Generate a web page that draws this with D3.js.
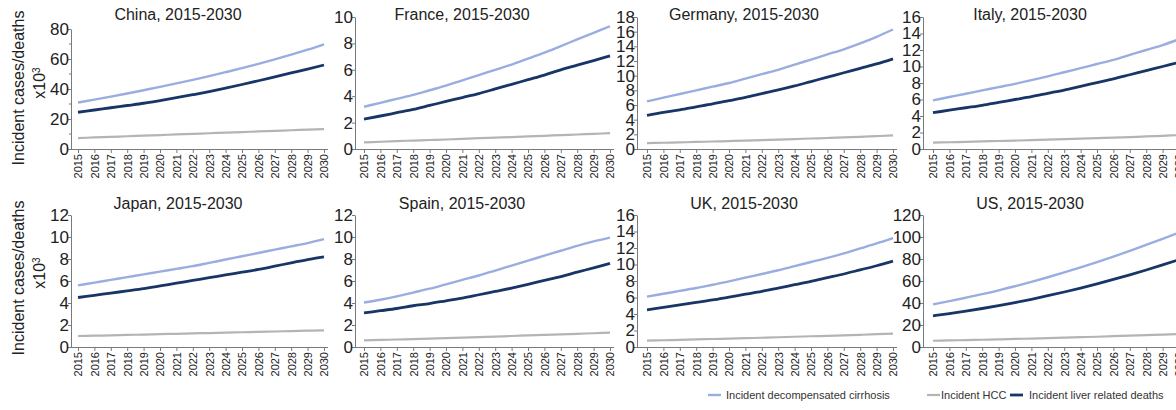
<!DOCTYPE html>
<html>
<head>
<meta charset="utf-8">
<script src="https://cdn.jsdelivr.net/npm/d3@7"></script>
<style>
  body { margin: 0; background: #fff; }
  svg { display: block; font-family: "Liberation Sans", Arial, sans-serif; }
</style>
</head>
<body>
<script>
'use strict';

// x axis categories
const years = [2015, 2016, 2017, 2018, 2019, 2020, 2021, 2022, 2023, 2024, 2025, 2026, 2027, 2028, 2029, 2030];

// values, in thousands
const chinaCirrhosis = [31, 32.9, 34.9, 37.0, 39.2, 41.4, 43.7, 46.1, 48.6, 51.2, 53.9, 56.8, 59.8, 62.9, 66.2, 69.8];
const chinaHcc       = [7.3, 7.7, 8.1, 8.5, 8.9, 9.3, 9.7, 10.1, 10.5, 10.9, 11.3, 11.7, 12.1, 12.5, 12.9, 13.3];
const chinaDeaths    = [24.5, 26, 27.5, 29, 30.5, 32.3, 34.2, 36.2, 38.3, 40.6, 43, 45.5, 48.1, 50.7, 53.3, 56];

const franceCirrhosis = [3.2, 3.5, 3.8, 4.1, 4.45, 4.8, 5.2, 5.6, 6.0, 6.4, 6.85, 7.3, 7.8, 8.3, 8.8, 9.3];
const franceHcc       = [0.5, 0.55, 0.6, 0.64, 0.68, 0.72, 0.77, 0.82, 0.86, 0.9, 0.95, 1.0, 1.05, 1.1, 1.15, 1.2];
const franceDeaths    = [2.27, 2.5, 2.75, 3.0, 3.3, 3.6, 3.9, 4.2, 4.55, 4.9, 5.25, 5.6, 6.0, 6.35, 6.7, 7.05];

const germanyCirrhosis = [6.5, 7.0, 7.5, 8.0, 8.5, 9.0, 9.6, 10.2, 10.8, 11.5, 12.2, 12.9, 13.6, 14.4, 15.3, 16.3];
const germanyHcc       = [0.8, 0.85, 0.9, 0.96, 1.02, 1.08, 1.15, 1.22, 1.29, 1.36, 1.43, 1.5, 1.58, 1.66, 1.75, 1.85];
const germanyDeaths    = [4.6, 5.0, 5.35, 5.75, 6.15, 6.6, 7.05, 7.55, 8.05, 8.6, 9.2, 9.8, 10.4, 11.0, 11.6, 12.3];

const italyCirrhosis = [5.9, 6.3, 6.7, 7.1, 7.5, 7.9, 8.35, 8.8, 9.3, 9.8, 10.3, 10.8, 11.4, 12.0, 12.6, 13.3];
const italyHcc       = [0.77, 0.82, 0.87, 0.92, 0.97, 1.02, 1.08, 1.14, 1.2, 1.26, 1.32, 1.38, 1.45, 1.52, 1.6, 1.68];
const italyDeaths    = [4.4, 4.7, 5.0, 5.3, 5.65, 6.0, 6.35, 6.75, 7.15, 7.6, 8.05, 8.5, 9.0, 9.5, 10.0, 10.5];

const japanCirrhosis = [5.6, 5.85, 6.1, 6.35, 6.6, 6.85, 7.1, 7.35, 7.65, 7.95, 8.25, 8.55, 8.85, 9.15, 9.45, 9.8];
const japanHcc       = [1.0, 1.03, 1.06, 1.1, 1.13, 1.17, 1.2, 1.24, 1.27, 1.31, 1.34, 1.38, 1.41, 1.45, 1.48, 1.52];
const japanDeaths    = [4.5, 4.7, 4.9, 5.1, 5.3, 5.55, 5.8, 6.05, 6.3, 6.55, 6.8, 7.05, 7.35, 7.65, 7.95, 8.2];

const spainCirrhosis = [4.05, 4.3, 4.6, 4.95, 5.3, 5.7, 6.1, 6.5, 6.95, 7.4, 7.85, 8.3, 8.75, 9.2, 9.6, 9.95];
const spainHcc       = [0.6, 0.64, 0.68, 0.72, 0.76, 0.8, 0.85, 0.9, 0.95, 1.0, 1.05, 1.1, 1.15, 1.2, 1.25, 1.3];
const spainDeaths    = [3.1, 3.3, 3.5, 3.75, 3.95, 4.2, 4.45, 4.75, 5.05, 5.35, 5.7, 6.05, 6.4, 6.8, 7.2, 7.6];

const ukCirrhosis = [6.1, 6.45, 6.8, 7.15, 7.55, 7.95, 8.4, 8.85, 9.3, 9.8, 10.3, 10.8, 11.35, 11.95, 12.55, 13.2];
const ukHcc       = [0.77, 0.82, 0.87, 0.92, 0.97, 1.02, 1.07, 1.12, 1.18, 1.24, 1.3, 1.36, 1.42, 1.48, 1.55, 1.62];
const ukDeaths    = [4.5, 4.8, 5.1, 5.4, 5.7, 6.05, 6.4, 6.75, 7.15, 7.55, 7.95, 8.4, 8.85, 9.35, 9.85, 10.4];

const usCirrhosis = [38.8, 41.7, 44.8, 48, 51.5, 55.2, 59.2, 63.4, 67.8, 72.4, 77.2, 82.2, 87.4, 92.8, 98.3, 104];
const usHcc       = [5.7, 6.0, 6.3, 6.6, 6.9, 7.3, 7.7, 8.1, 8.5, 8.9, 9.3, 9.8, 10.3, 10.8, 11.3, 11.9];
const usDeaths    = [28.3, 30.4, 32.6, 35.0, 37.6, 40.4, 43.4, 46.6, 50.0, 53.6, 57.4, 61.4, 65.6, 70.0, 74.6, 79.4];

// panel titles and y axis tops
const titles = ['China, 2015-2030', 'France, 2015-2030', 'Germany, 2015-2030', 'Italy, 2015-2030',
                'Japan, 2015-2030', 'Spain, 2015-2030', 'UK, 2015-2030', 'US, 2015-2030'];
const yMaxes = [80, 10, 18, 16, 12, 12, 16, 120];
const yStepTicks = [20, 2, 2, 2, 2, 2, 2, 20];

const seriesNames = ['Incident decompensated cirrhosis', 'Incident HCC', 'Incident liver related deaths'];

(function() {

  const colors = ['#9aade0', '#b4b4b4', '#173566'];
  const widths = [2.4, 2.2, 2.8];

  // layout in pixels
  const cols = [
    { axis: 71, x0: 78 },
    { axis: 355, x0: 364 },
    { axis: 637, x0: 647 },
    { axis: 923, x0: 933 }
  ];
  const span = 246;
  const rows = [
    { zero: 149, top: 17 },
    { zero: 347, top: 215 }
  ];

  const panelData = [
    [chinaCirrhosis, chinaHcc, chinaDeaths],
    [franceCirrhosis, franceHcc, franceDeaths],
    [germanyCirrhosis, germanyHcc, germanyDeaths],
    [italyCirrhosis, italyHcc, italyDeaths],
    [japanCirrhosis, japanHcc, japanDeaths],
    [spainCirrhosis, spainHcc, spainDeaths],
    [ukCirrhosis, ukHcc, ukDeaths],
    [usCirrhosis, usHcc, usDeaths]
  ];

  const svg = d3.select('body')
    .append('svg')
    .attr('width', 1176)
    .attr('height', 410);

  panelData.forEach((series, i) => {
    let col = cols[i % 4];
    let row = rows[Math.floor(i / 4)];
    // china's axis is a bit shorter than the others
    let top = i === 0 ? 29 : row.top;
    let titleY = i < 4 ? 20 : 209;
    drawPanel(series, i, col, row.zero, top, titleY);
  });

  drawYLabel(88);
  drawYLabel(278);
  drawLegend();

  // one small multiple
  function drawPanel(series, i, col, zero, top, titleY) {
    let g = svg.append('g');

    let xScale = d3.scaleLinear()
      .domain([2015, 2030])
      .range([col.x0, col.x0 + span]);

    let yScale = d3.scaleLinear()
      .domain([0, yMaxes[i]])
      .range([zero, top]);

    // x axis
    let xAxis = d3.axisBottom(xScale)
      .tickValues(years)
      .tickFormat(d3.format('d'))
      .tickSize(4)
      .tickSizeOuter(0);
    let xg = g.append('g')
      .attr('transform', 'translate(0,' + zero + ')')
      .call(xAxis);
    xg.select('.domain')
      .attr('d', 'M' + col.axis + ',0.5H' + (col.x0 + span + 4));
    xg.selectAll('line').attr('stroke', '#7a7a7a');
    xg.select('.domain').attr('stroke', '#7a7a7a');
    xg.selectAll('text')
      .attr('transform', 'rotate(-90)')
      .attr('x', -5)
      .attr('y', 0)
      .attr('dy', '0.35em')
      .style('text-anchor', 'end')
      .style('font-size', '11px')
      .style('font-family', '"Liberation Sans", Arial, sans-serif')
      .attr('fill', '#222');

    // y axis
    let yAxis = d3.axisLeft(yScale)
      .tickValues(d3.range(0, yMaxes[i] + 0.001, yStepTicks[i]))
      .tickSize(3)
      .tickSizeOuter(0);
    let yg = g.append('g')
      .attr('transform', 'translate(' + col.axis + ',0)')
      .call(yAxis);
    yg.select('.domain').attr('stroke', '#7a7a7a');
    yg.selectAll('line').attr('stroke', '#7a7a7a');
    yg.selectAll('text')
      .attr('x', -2)
      .style('font-size', '17px')
      .style('font-family', '"Liberation Sans", Arial, sans-serif')
      .attr('fill', '#222');

    // minor ticks on the china panel
    if (i === 0) {
      g.selectAll('.minor')
        .data([10, 30, 50, 70])
        .enter()
        .append('line')
        .attr('x1', col.axis - 2)
        .attr('x2', col.axis)
        .attr('y1', (d) => yScale(d))
        .attr('y2', (d) => yScale(d))
        .attr('stroke', '#7a7a7a');
    }

    // title
    g.append('text')
      .attr('x', col.axis + 107)
      .attr('y', titleY)
      .attr('text-anchor', 'middle')
      .style('font-size', '16px')
      .attr('fill', '#222')
      .text(titles[i]);

    // lines: HCC first, then cirrhosis, then deaths on top
    let line = d3.line()
      .x((d, k) => xScale(years[k]))
      .y((d) => yScale(d))
      .curve(d3.curveMonotoneX);

    [1, 0, 2].forEach((s) => {
      g.append('path')
        .datum(series[s])
        .attr('fill', 'none')
        .attr('stroke', colors[s])
        .attr('stroke-width', widths[s])
        .attr('d', line);
    });
  }

  // rotated y label on the left
  function drawYLabel(cy) {
    svg.append('text')
      .attr('transform', 'translate(24,' + cy + ') rotate(-90)')
      .attr('text-anchor', 'middle')
      .style('font-size', '16px')
      .attr('fill', '#222')
      .text('Incident cases/deaths');

    let t = svg.append('text')
      .attr('transform', 'translate(45,' + (cy - 5) + ') rotate(-90)')
      .attr('text-anchor', 'middle')
      .style('font-size', '16px')
      .attr('fill', '#222');
    t.append('tspan').text('x10');
    t.append('tspan')
      .attr('dy', '-0.5em')
      .style('font-size', '10px')
      .text('3');
  }

  // legend along the bottom
  function drawLegend() {
    let items = [
      { x: 708, tx: 726, s: 0 },
      { x: 927, tx: 941, s: 1 },
      { x: 1010, tx: 1029, s: 2 }
    ];
    let y = 395;
    items.forEach((it) => {
      svg.append('line')
        .attr('x1', it.x)
        .attr('x2', it.x + 13)
        .attr('y1', y)
        .attr('y2', y)
        .attr('stroke', colors[it.s])
        .attr('stroke-width', widths[it.s]);
      svg.append('text')
        .attr('x', it.tx)
        .attr('y', y + 4)
        .style('font-size', '11px')
        .attr('fill', '#333')
        .text(seriesNames[it.s]);
    });
  }

})();
</script>
</body>
</html>
